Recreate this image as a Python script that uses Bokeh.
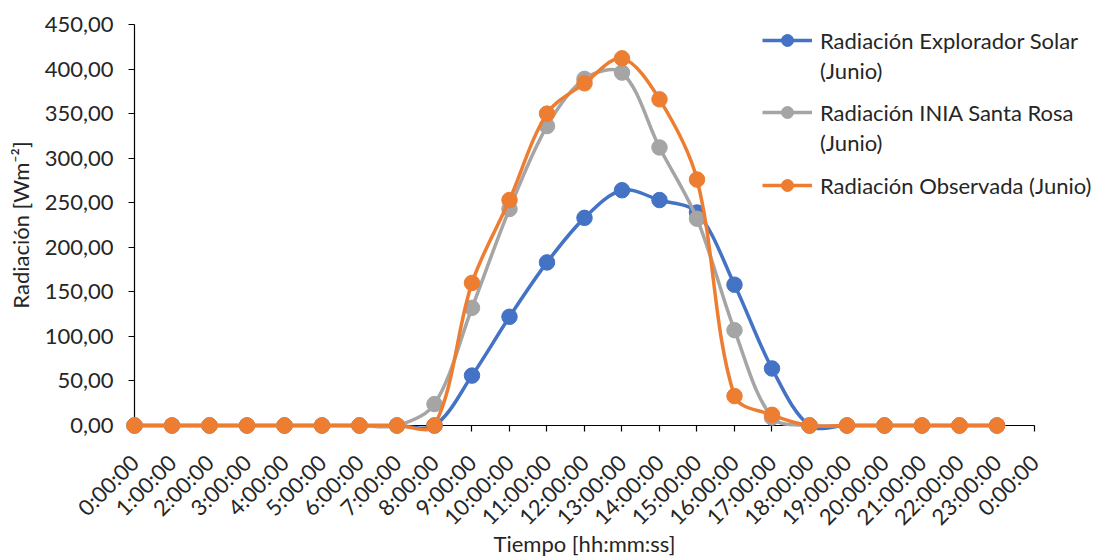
import math
from bokeh.plotting import figure
from bokeh.models import Range1d, FixedTicker, Legend, LegendItem, ColumnDataSource
from bokeh.embed import file_html
from bokeh.resources import INLINE

# ---------------- data ----------------
hours = list(range(24))
x_ticks = list(range(25))
x_tick_labels = ["0:00:00", "1:00:00", "2:00:00", "3:00:00", "4:00:00", "5:00:00",
                 "6:00:00", "7:00:00", "8:00:00", "9:00:00", "10:00:00", "11:00:00",
                 "12:00:00", "13:00:00", "14:00:00", "15:00:00", "16:00:00", "17:00:00",
                 "18:00:00", "19:00:00", "20:00:00", "21:00:00", "22:00:00", "23:00:00",
                 "0:00:00"]
y_ticks = [0, 50, 100, 150, 200, 250, 300, 350, 400, 450]
y_tick_labels = ["0,00", "50,00", "100,00", "150,00", "200,00", "250,00",
                 "300,00", "350,00", "400,00", "450,00"]

explorador = [0, 0, 0, 0, 0, 0, 0, 0, 0, 56, 122, 183, 233, 264, 253, 239, 158, 64, 0, 0, 0, 0, 0, 0]
inia = [0, 0, 0, 0, 0, 0, 0, 0, 24, 132, 243, 336, 389, 396, 312, 232, 107, 9, 0, 0, 0, 0, 0, 0]
observada = [0, 0, 0, 0, 0, 0, 0, 0, 0, 160, 253, 350, 384, 412, 366, 276, 33, 12, 0, 0, 0, 0, 0, 0]

series_names = ["Radiación Explorador Solar", "Radiación INIA Santa Rosa", "Radiación Observada (Junio)"]
colors = ["#4472C4", "#A5A5A5", "#ED7D31"]

FONT = "Lato"
TEXT_COLOR = "#262626"
FS = "22px"

W, H = 1098, 559
X_RANGE = (-3.5733, 25.7067)
Y_RANGE = (-150.37, 476.93)
SX = W / (X_RANGE[1] - X_RANGE[0])   # px per hour
SY = H / (Y_RANGE[1] - Y_RANGE[0])   # px per W/m2


def smooth_segments(xs, ys):
    """Bezier control points for an Excel-like smoothed line (chord-weighted
    Catmull-Rom tangents, evaluated in screen proportions)."""
    n = len(xs)
    P = [(x * SX, y * SY) for x, y in zip(xs, ys)]

    def dist(a, b):
        return math.hypot(P[a][0] - P[b][0], P[a][1] - P[b][1])

    def tangent(i):
        a, b = max(i - 1, 0), min(i + 1, n - 1)
        return (P[b][0] - P[a][0], P[b][1] - P[a][1])

    d = dict(x0=[], y0=[], x1=[], y1=[], cx0=[], cy0=[], cx1=[], cy1=[])
    for i in range(n - 1):
        d_prev = dist(i - 1, i) if i > 0 else 0.0
        d_cur = dist(i, i + 1)
        d_next = dist(i + 1, i + 2) if i + 2 < n else 0.0
        t0, t1 = tangent(i), tangent(i + 1)
        f0 = d_cur / (d_prev + d_cur) / 3 if d_prev + d_cur > 0 else 0
        f1 = d_cur / (d_cur + d_next) / 3 if d_cur + d_next > 0 else 0
        c0 = (P[i][0] + t0[0] * f0, P[i][1] + t0[1] * f0)
        c1 = (P[i + 1][0] - t1[0] * f1, P[i + 1][1] - t1[1] * f1)
        d["x0"].append(xs[i]); d["y0"].append(ys[i])
        d["x1"].append(xs[i + 1]); d["y1"].append(ys[i + 1])
        d["cx0"].append(c0[0] / SX); d["cy0"].append(c0[1] / SY)
        d["cx1"].append(c1[0] / SX); d["cy1"].append(c1[1] / SY)
    return ColumnDataSource(d)


# the frame fills the whole figure; axes are drawn at the data origin inside it
p = figure(width=W, height=H,
           x_range=Range1d(*X_RANGE), y_range=Range1d(*Y_RANGE),
           output_backend="svg", toolbar_location=None,
           min_border_left=0, min_border_right=0,
           min_border_top=0, min_border_bottom=0)
p.xgrid.visible = False
p.ygrid.visible = False
p.outline_line_color = None
p.background_fill_color = "white"
p.border_fill_color = "white"

renderers = []
for ys, col in zip([explorador, inia, observada], colors):
    src = smooth_segments(hours, ys)
    lr = p.bezier(x0="x0", y0="y0", x1="x1", y1="y1", cx0="cx0", cy0="cy0",
                  cx1="cx1", cy1="cy1", source=src, line_color=col, line_width=3.5)
    sr = p.scatter(hours, ys, size=15.5, marker="circle", fill_color=col, line_color=col)
    renderers.append((lr, sr))

# axes
xa = p.xaxis[0]
xa.ticker = FixedTicker(ticks=x_ticks)
xa.major_label_overrides = {t: lab for t, lab in zip(x_ticks, x_tick_labels)}
xa.major_label_orientation = math.pi / 4
xa.axis_label = "Tiempo [hh:mm:ss]"
xa.bounds = (x_ticks[0], x_ticks[-1])
xa.major_label_standoff = 27
xa.axis_label_standoff = -13

ya = p.yaxis[0]
ya.ticker = FixedTicker(ticks=y_ticks)
ya.major_label_overrides = {t: lab for t, lab in zip(y_ticks, y_tick_labels)}
ya.axis_label = "Radiación [Wm⁻²]"
ya.bounds = (y_ticks[0], y_ticks[-1])
ya.major_label_standoff = 15
ya.axis_label_standoff = 8

for ax in (xa, ya):
    ax.fixed_location = 0
    ax.level = "underlay"
    ax.axis_line_color = "black"
    ax.axis_line_width = 1.2
    ax.major_tick_line_color = "black"
    ax.major_tick_line_width = 1.2
    ax.major_tick_in = 0
    ax.major_tick_out = 6
    ax.minor_tick_line_color = None
    ax.minor_tick_in = 0
    ax.minor_tick_out = 0
    ax.major_label_text_font = FONT
    ax.major_label_text_font_size = FS
    ax.major_label_text_color = TEXT_COLOR
    ax.axis_label_text_font = FONT
    ax.axis_label_text_font_size = FS
    ax.axis_label_text_font_style = "normal"
    ax.axis_label_text_color = TEXT_COLOR

# legends (one per series so the glyph sits on the first text line)
legend_specs = [
    ([series_names[0], "(Junio)"], 0, 474),
    ([series_names[1], "(Junio)"], 1, 402),
    ([series_names[2]], 2, 359),
]
for labels, idx, vy in legend_specs:
    items = [LegendItem(label=labels[0], renderers=list(renderers[idx]))]
    for extra in labels[1:]:
        items.append(LegendItem(label=extra, renderers=[]))
    leg = Legend(items=items, location=(762, vy), orientation="vertical",
                 glyph_width=50, glyph_height=30, label_height=30, spacing=0,
                 label_standoff=8, padding=0, margin=0,
                 border_line_color=None, background_fill_alpha=0,
                 label_text_font=FONT, label_text_font_size=FS,
                 label_text_color=TEXT_COLOR)
    p.add_layout(leg)

open("out.html", "w").write(file_html(p, INLINE))
